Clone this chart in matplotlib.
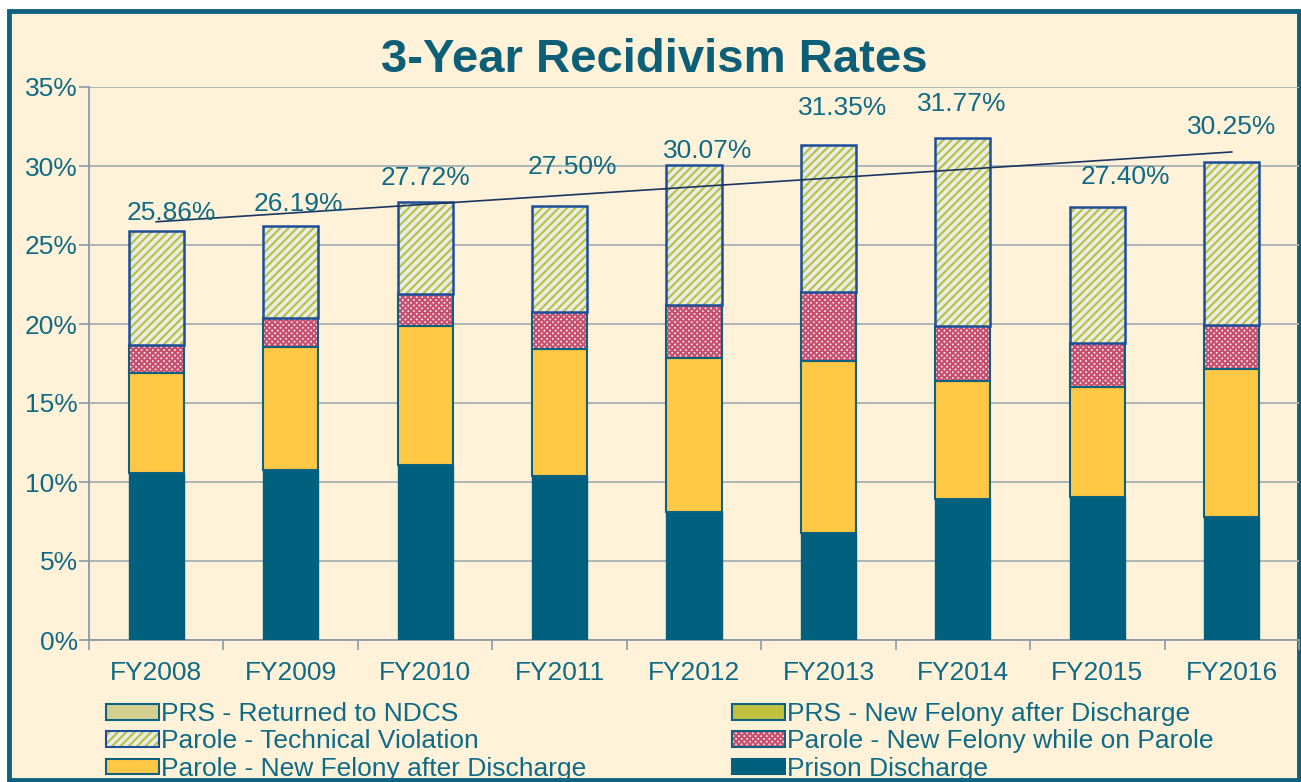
import numpy as np
import matplotlib.pyplot as plt
from matplotlib.patches import Rectangle, Patch

# 資料
years = ['FY2008', 'FY2009', 'FY2010', 'FY2011', 'FY2012', 'FY2013', 'FY2014', 'FY2015', 'FY2016']
totals = [25.86, 26.19, 27.72, 27.50, 30.07, 31.35, 31.77, 27.40, 30.25]
prison_discharge = [10.57, 10.76, 11.08, 10.38, 8.10, 6.77, 8.92, 9.05, 7.78]
parole_felony_after = [6.33, 7.78, 8.79, 8.04, 9.75, 10.89, 7.47, 6.96, 9.37]
parole_felony_while = [1.77, 1.84, 2.03, 2.34, 3.35, 4.37, 3.48, 2.79, 2.79]
prs_returned = [0, 0, 0, 0, 0, 0, 0, 0, 0]
prs_felony_after = [0, 0, 0, 0, 0, 0, 0, 0, 0]

# 技術違規 = 總數 - 其他
tech_violation = [t - a - b - c for t, a, b, c in
                  zip(totals, prison_discharge, parole_felony_after, parole_felony_while)]

teal = '#0E6280'
txt = '#0F6A85'
bg = '#FFF2D9'
pink_hatch = (0.78, 0.31, 0.43, 1)
green_hatch = (0.72, 0.75, 0.25, 1)

plt.rcParams['font.family'] = ['Liberation Sans', 'DejaVu Sans']
plt.rcParams['hatch.linewidth'] = 1.5

fig = plt.figure(figsize=(13.01, 7.82), dpi=100)
fig.patch.set_facecolor('white')
fig.patches.append(Rectangle((9 / 1301, 2 / 782), 1290 / 1301, 769 / 782, transform=fig.transFigure,
                             facecolor=bg, edgecolor=teal, linewidth=3.5, zorder=-10))

ax = fig.add_axes([89 / 1301, 1 - 640 / 782, 1210 / 1301, 553 / 782])
ax.set_facecolor('none')

x = np.arange(len(years))
w = 0.41
bottom = np.zeros(len(years))

ax.bar(x, prison_discharge, w, bottom=bottom, color='#00607E', edgecolor='#00607E', linewidth=1, zorder=3)
bottom += prison_discharge
ax.bar(x, parole_felony_after, w, bottom=bottom, color='#FFC845', edgecolor=teal, linewidth=1.5, zorder=3)
bottom += parole_felony_after
bars = ax.bar(x, parole_felony_while, w, bottom=bottom, color='#F6E6EA', edgecolor=teal, linewidth=1.5,
              hatch='xxxxxx', zorder=3)
for b in bars:
    b._hatch_color = pink_hatch
bottom += parole_felony_while
bars = ax.bar(x, tech_violation, w, bottom=bottom, color='#E9ECE4', edgecolor='#1C4E9A', linewidth=1.8,
              hatch='////', zorder=3)
for b in bars:
    b._hatch_color = green_hatch
bottom += tech_violation
ax.bar(x, prs_felony_after, w, bottom=bottom, color='#C2C040', zorder=3)
bottom += prs_felony_after
ax.bar(x, prs_returned, w, bottom=bottom, color='#D2CF90', zorder=3)

# 趨勢線
k, c0 = np.polyfit(x, totals, 1)
ax.plot([x[0], x[-1]], [c0, c0 + k * x[-1]], color='#1A3560', linewidth=1.2, zorder=4)

# 資料標籤
label_dx = [15, 8, 0, 13, 14, 14, -1, 28, 0]
label_dy = [18, 22, 24, 39, 14, 37, 34, 30, 35]
for i, t in enumerate(totals):
    ax.annotate(f'{t:.2f}%', (x[i], t), xytext=(label_dx[i], label_dy[i]), textcoords='offset pixels',
                ha='center', va='center', fontsize=19, color=txt, zorder=5)

ax.set_xlim(-0.5, len(years) - 0.5)
ax.set_ylim(0, 35)
ax.set_yticks(np.arange(0, 36, 5))
ax.set_yticklabels([f'{v}%' for v in range(0, 36, 5)])
ax.set_xticks(x)
ax.set_xticklabels(years)
ax.set_xticks(np.arange(-0.5, len(years), 1), minor=True)
ax.tick_params(axis='x', which='major', length=0, pad=15, labelsize=19, labelcolor=txt)
ax.tick_params(axis='x', which='minor', length=7, color='#8A9AA8', width=1.2)
ax.tick_params(axis='y', length=7, color='#8A9AA8', width=1.2, labelsize=19, labelcolor=txt, pad=1)
ax.grid(axis='y', color='#A7B0B4', linewidth=1.3, zorder=0)
ax.set_axisbelow(True)
for s in ['top', 'right']:
    ax.spines[s].set_visible(False)
for s in ['left', 'bottom']:
    ax.spines[s].set_color('#8A9AA8')
    ax.spines[s].set_linewidth(1.3)

fig.text(0.503, 1 - 60 / 782, '3-Year Recidivism Rates', ha='center', va='center',
         fontsize=34, fontweight='bold', color='#0D5F78')

# 圖例
handles = [
    Patch(facecolor='#D2CF90', edgecolor=teal, linewidth=1.5, label='PRS - Returned to NDCS'),
    Patch(facecolor='#E9ECE4', edgecolor='#1C4E9A', linewidth=1.5, hatch='////', label='Parole - Technical Violation'),
    Patch(facecolor='#FFC845', edgecolor=teal, linewidth=1.5, label='Parole - New Felony after Discharge'),
    Patch(facecolor='#C2C040', edgecolor=teal, linewidth=1.5, label='PRS - New Felony after Discharge'),
    Patch(facecolor='#F6E6EA', edgecolor=teal, linewidth=1.5, hatch='xxxxxx', label='Parole - New Felony while on Parole'),
    Patch(facecolor='#00607E', edgecolor='#00607E', linewidth=1.5, label='Prison Discharge'),
]
leg = fig.legend(handles=handles, loc='upper left', bbox_to_anchor=(106 / 1301, 1 - 702 / 782), ncol=2,
                 frameon=False, fontsize=19, handlelength=2.0, handleheight=0.55, handletextpad=0.1,
                 labelspacing=0.13, columnspacing=5.5, borderaxespad=0, borderpad=0)
for t in leg.get_texts():
    t.set_color(txt)
leg.legend_handles[1]._hatch_color = green_hatch
leg.legend_handles[4]._hatch_color = pink_hatch

fig.savefig('out.png', dpi=100, facecolor=fig.get_facecolor())
